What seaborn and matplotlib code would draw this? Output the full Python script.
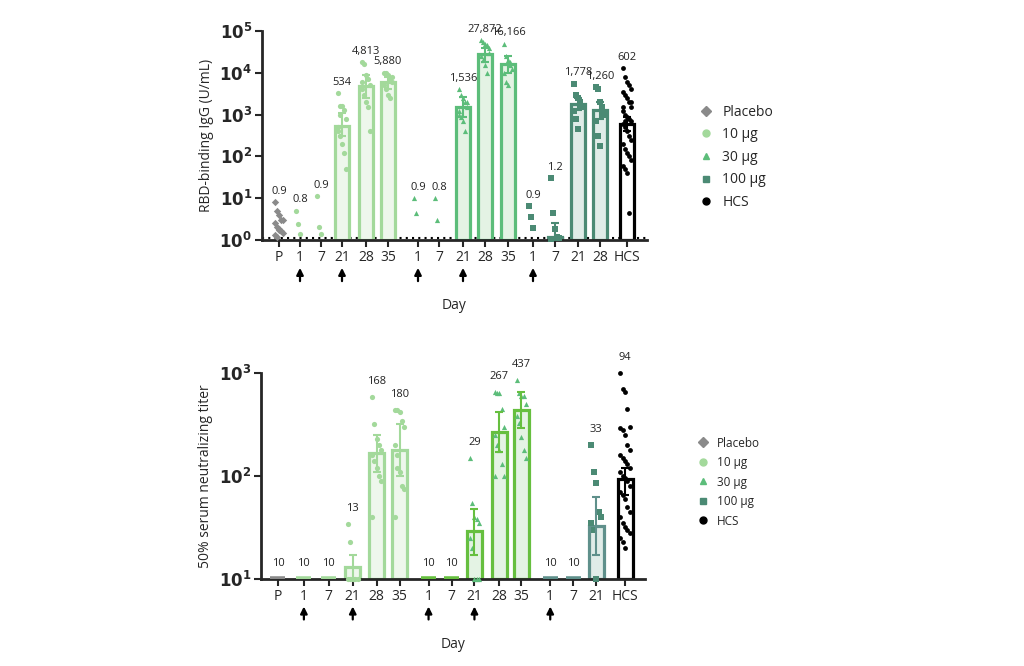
import numpy as np
import matplotlib
matplotlib.use("Agg")
import matplotlib.pyplot as plt
import seaborn as sns
from matplotlib.lines import Line2D

sns.set_theme(style="ticks")
plt.rcParams['font.family'] = ['Open Sans', 'DejaVu Sans']

# ---------------- data: top panel (RBD-binding IgG) ----------------
top_ticks = ["P", "1", "7", "21", "28", "35", "1", "7", "21", "28", "35", "1", "7", "21", "28", "HCS"]
top_groups = ["P", "10", "10", "10", "10", "10", "30", "30", "30", "30", "30", "100", "100", "100", "100", "HCS"]
top_gmt = [0.9, 0.8, 0.9, 534, 4813, 5880, 0.9, 0.8, 1536, 27872, 16166, 0.9, 1.2, 1778, 1260, 602]
top_err_lo = [None, None, None, 300, 2500, 4000, None, None, 900, 18000, 10000, None, 1.0, 1300, 800, 400]
top_err_hi = [None, None, None, 1100, 9000, 8000, None, None, 2600, 40000, 25000, None, 2.5, 2500, 2000, 900]
top_pts = [
    [8, 5, 4, 3, 3, 2.5, 2, 1.8, 1.6, 1.5, 1.3, 1.2, 1.7],
    [5, 2.4, 1.4],
    [11, 2, 1.4],
    [3200, 1600, 1600, 1300, 800, 500, 300, 200, 120, 50, 400, 1000],
    [18000, 16000, 9000, 7000, 5000, 4000, 3000, 2000, 1500, 400, 6000],
    [10000, 10000, 9000, 7000, 6000, 5000, 4000, 3000, 2500, 8000],
    [10, 4.5],
    [10, 3],
    [4000, 3000, 2500, 2000, 1500, 1200, 900, 700, 400, 2000, 1000],
    [60000, 55000, 50000, 45000, 30000, 25000, 20000, 15000, 10000, 40000],
    [50000, 25000, 20000, 15000, 12000, 10000, 6000, 5000, 18000],
    [6.5, 3.5, 1.9],
    [30, 4.5, 1.8, 1.2, 1.1, 1.05],
    [5500, 3000, 2500, 2000, 1500, 1200, 800, 450, 1800],
    [4500, 4000, 2000, 1500, 1000, 700, 300, 180, 1200],
    [13000, 8000, 6000, 5000, 4000, 3500, 3000, 2500, 2000, 1500, 1200, 1000, 900, 800, 700,
     600, 500, 400, 300, 250, 200, 150, 120, 100, 80, 60, 50, 40, 4.5, 2000, 1500, 700],
]
top_labels = ["0.9", "0.8", "0.9", "534", "4,813", "5,880", "0.9", "0.8", "1,536", "27,872", "16,166",
              "0.9", "1.2", "1,778", "1,260", "602"]
top_arrows = [1, 3, 6, 8, 11]

# ---------------- data: bottom panel (neutralizing titer) ----------------
bot_ticks = ["P", "1", "7", "21", "28", "35", "1", "7", "21", "28", "35", "1", "7", "21", "HCS"]
bot_groups = ["P", "10", "10", "10", "10", "10", "30", "30", "30", "30", "30", "100", "100", "100", "HCS"]
bot_gmt = [10, 10, 10, 13, 168, 180, 10, 10, 29, 267, 437, 10, 10, 33, 94]
bot_err_lo = [None, None, None, 10, 110, 100, None, None, 17, 170, 290, None, None, 17, 65]
bot_err_hi = [None, None, None, 17, 250, 320, None, None, 48, 420, 650, None, None, 62, 120]
bot_pts = [
    [], [], [],
    [34, 23, 10, 10, 10, 10, 10, 10],
    [580, 320, 230, 200, 180, 160, 140, 120, 100, 90, 40],
    [440, 440, 420, 340, 300, 200, 160, 110, 80, 75, 40, 120],
    [], [],
    [150, 55, 40, 38, 35, 25, 20, 10, 10, 10],
    [650, 640, 640, 450, 300, 250, 200, 180, 130, 100, 100],
    [850, 640, 600, 600, 500, 380, 330, 240, 180, 150],
    [], [],
    [200, 110, 85, 45, 40, 35, 30, 10],
    [1000, 700, 650, 450, 300, 290, 280, 250, 200, 180, 160, 150, 140, 130, 120, 110, 100, 95,
     90, 80, 70, 65, 60, 50, 45, 40, 35, 32, 30, 28, 25, 23, 20],
]
bot_labels = ["10", "10", "10", "13", "168", "180", "10", "10", "29", "267", "437", "10", "10", "33", "94"]
bot_arrows = [1, 3, 6, 8, 11]

legend_names = ["Placebo", "10 µg", "30 µg", "100 µg", "HCS"]

# ---------------- styles ----------------
markers = {"P": "D", "10": "o", "30": "^", "100": "s", "HCS": "o"}
top_col = {"P": "#8a8a8a", "10": "#a3d99b", "30": "#5cbd7a", "100": "#4b8a74", "HCS": "#000000"}
bot_col = {"P": "#8a8a8a", "10": "#a3d99b", "30": "#66bf3f", "100": "#5f908b", "HCS": "#000000"}
bot_pt_col = {"P": "#8a8a8a", "10": "#a3d99b", "30": "#5cbd7a", "100": "#4b8a74", "HCS": "#000000"}
face = {"P": "#eeeeee", "10": "#eef7ec", "30": "#e4f3e4", "100": "#e0ece8", "HCS": "#ffffff"}
top_x = [279, 300, 321, 342, 366, 388, 418, 439, 463, 485, 508, 533, 555, 578, 600, 627]
bot_x = [277, 303, 328, 352, 376, 399, 428, 451, 474, 499, 521, 550, 573, 596, 625]

W, H = 1024, 666
fig = plt.figure(figsize=(10.24, 6.66), dpi=100)
ax1 = fig.add_axes([262 / W, 1 - 240 / H, 385 / W, 209 / H])
ax2 = fig.add_axes([261 / W, 1 - 579 / H, 384 / W, 206 / H])


def draw(ax, xs, groups, gmt, lo, hi, pts, labels, ticks, arrows, cols, ptcols, base, ymax, bw, dotted):
    ax.set_yscale("log")
    ax.set_ylim(base, ymax)
    ax.set_xlim(xs[0] - 17, xs[-1] + 20)
    for i, x in enumerate(xs):
        g = groups[i]
        c = cols[g]
        v = gmt[i]
        if v > base * 1.02:
            ax.bar(x, v - base, bottom=base, width=bw, color=face[g], edgecolor=c, linewidth=2.3, zorder=2)
        elif base >= 10:
            ax.plot([x - bw / 2, x + bw / 2], [base * 1.01, base * 1.01], color=c, lw=4, solid_capstyle="butt", zorder=3)
        p = pts[i]
        n = len(p)
        offs = [((k % 5) - 2) * bw * 0.16 for k in range(n)]
        if n:
            sns.scatterplot(x=np.array(x) + np.array(offs), y=p, ax=ax, marker=markers[g], color=ptcols[g],
                            s=14 if g != "HCS" else 12, linewidth=0, zorder=4, legend=False, clip_on=False)
        if lo[i] is not None:
            ax.errorbar(x, v, yerr=[[v - lo[i]], [hi[i] - v]], color=c, lw=1.5, capsize=3, capthick=1.5, zorder=5)
        top = max([v] + (p if n else []) + ([hi[i]] if hi[i] else []))
        ax.text(x, top * (1.35 if base < 10 else 1.25), labels[i], ha="center", va="bottom", fontsize=8,
                color="#222222")
    if dotted:
        ax.axhline(1.1, color="black", ls=(0, (1, 2)), lw=1.5, zorder=1)
    ax.set_xticks(xs)
    ax.set_xticklabels(ticks, fontsize=10)
    for i in arrows:
        ax.annotate("", xy=(xs[i], -0.12), xytext=(xs[i], -0.21), xycoords=("data", "axes fraction"),
                    arrowprops=dict(arrowstyle="-|>", color="black", lw=1.6, mutation_scale=10))
    for s in ["top", "right"]:
        ax.spines[s].set_visible(False)
    for s in ["left", "bottom"]:
        ax.spines[s].set_linewidth(2)
    ax.tick_params(axis="both", width=1.5, length=5, pad=2)
    ax.tick_params(axis="y", which="minor", length=0)
    ax.set_xlabel("Day", fontsize=10, labelpad=24)


draw(ax1, top_x, top_groups, top_gmt, top_err_lo, top_err_hi, top_pts, top_labels, top_ticks, top_arrows,
     top_col, top_col, 1, 1e5, 14, True)
ax1.set_yticks([1, 10, 100, 1e3, 1e4, 1e5])
ax1.set_yticklabels([r"$\mathbf{10^{%d}}$" % k for k in range(6)], fontsize=12)
ax1.set_ylabel("RBD-binding IgG (U/mL)", fontsize=10)

draw(ax2, bot_x, bot_groups, bot_gmt, bot_err_lo, bot_err_hi, bot_pts, bot_labels, bot_ticks, bot_arrows,
     bot_col, bot_pt_col, 10, 1000, 15, False)
ax2.set_yticks([10, 100, 1000])
ax2.set_yticklabels([r"$\mathbf{10^{%d}}$" % k for k in range(1, 4)], fontsize=12)
ax2.set_ylabel("50% serum neutralizing titer", fontsize=10)


def legend(ax, cols, y, fs):
    keys = ["P", "10", "30", "100", "HCS"]
    handles = [Line2D([], [], marker=markers[k], color=cols[k], ls="", markersize=5) for k in keys]
    fig.legend(handles, legend_names, loc="upper left", bbox_to_anchor=(685 / W, 1 - y / H), frameon=False,
               fontsize=fs, handletextpad=0.6, labelspacing=0.55, handlelength=1.2)


legend(ax1, top_col, 92, 10)
legend(ax2, bot_pt_col, 426, 8.5)

fig.savefig("out.png", dpi=100)
